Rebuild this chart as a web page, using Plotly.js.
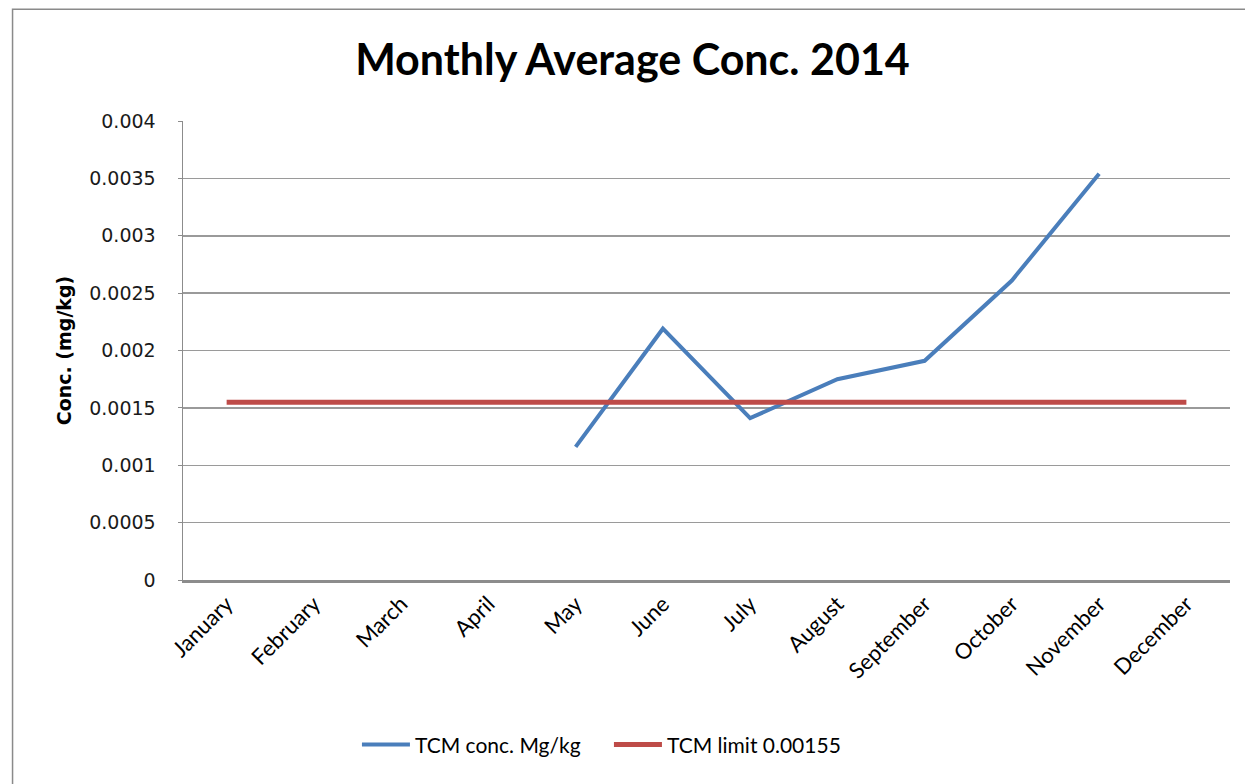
<!DOCTYPE html>
<html>
<head>
<meta charset="utf-8">
<script src="https://cdn.plot.ly/plotly-3.0.1.min.js"></script>
<style>
  html, body { margin: 0; padding: 0; background: #ffffff; }
  #chart { width: 1245px; height: 784px; }
</style>
</head>
<body>
<div id="chart"></div>
<script>
const months = ["January", "February", "March", "April", "May", "June", "July",
                "August", "September", "October", "November", "December"];
const tcmConc = [null, null, null, null, 0.00116, 0.00219, 0.00141, 0.00175, 0.00191, 0.00261, 0.00354, null];
const tcmLimit = [0.00155, 0.00155, 0.00155, 0.00155, 0.00155, 0.00155,
                  0.00155, 0.00155, 0.00155, 0.00155, 0.00155, 0.00155];
const yTickVals = [0, 0.0005, 0.001, 0.0015, 0.002, 0.0025, 0.003, 0.0035, 0.004];
const yTickText = ["0", "0.0005", "0.001", "0.0015", "0.002", "0.0025", "0.003", "0.0035", "0.004"];

const traces = [
  {
    x: months, y: tcmConc, type: "scatter", mode: "lines",
    name: "TCM conc. Mg/kg",
    line: { color: "#4A7EBB", width: 4 },
    connectgaps: false
  },
  {
    x: months, y: tcmLimit, type: "scatter", mode: "lines",
    name: "TCM limit 0.00155",
    line: { color: "#BE4B48", width: 5 }
  }
];

const layout = {
  width: 1245, height: 784,
  paper_bgcolor: "#ffffff", plot_bgcolor: "#ffffff",
  margin: { l: 183, r: 14.5, t: 120.5, b: 204, pad: 0 },
  title: {
    text: "<b>Monthly Average Conc. 2014</b>",
    font: { family: "Lato, 'Open Sans', sans-serif", size: 43, color: "#000000" },
    x: 0.508, xanchor: "center", xref: "container",
    y: 0.923, yanchor: "middle", yref: "container"
  },
  xaxis: {
    type: "category",
    range: [-0.5, 11.5],
    tickangle: -45,
    tickfont: { family: "Lato, 'Open Sans', sans-serif", size: 22, color: "#000000" },
    showgrid: false,
    showline: true, linecolor: "#8c8c8c", linewidth: 2.5,
    ticks: "", zeroline: false,
    fixedrange: true
  },
  yaxis: {
    range: [0, 0.004],
    tickvals: yTickVals, ticktext: yTickText,
    tickfont: { family: "'DejaVu Sans', sans-serif", size: 19, color: "#1a1a1a" },
    showgrid: true, gridcolor: "#9a9a9a", gridwidth: 1.5,
    showline: true, linecolor: "#8c8c8c", linewidth: 1.5,
    zeroline: false,
    ticks: "outside", ticklen: 4, tickcolor: "#8c8c8c",
    ticklabelstandoff: 18,
    title: {
      text: "<b>Conc. (mg/kg)</b>",
      font: { family: "'DejaVu Sans', sans-serif", size: 19, color: "#000000" },
      standoff: 12
    },
    fixedrange: true
  },
  showlegend: true,
  legend: {
    orientation: "h",
    x: 0.2867, xanchor: "left", xref: "container",
    y: 0.05, yanchor: "middle", yref: "container",
    font: { family: "Lato, 'Open Sans', sans-serif", size: 21, color: "#000000" },
    bgcolor: "rgba(0,0,0,0)",
    itemwidth: 48,
    entrywidth: 189, entrywidthmode: "pixels",
    tracegroupgap: 0
  },
  shapes: [
    {
      type: "rect", xref: "paper", yref: "paper",
      x0: -0.1628, x1: 1.2, y0: -0.6, y1: 1.2437,
      line: { color: "#8a8a8a", width: 1.5 },
      fillcolor: "rgba(0,0,0,0)",
      layer: "below"
    }
  ]
};

Plotly.newPlot("chart", traces, layout, { displayModeBar: false, staticPlot: true });
</script>
</body>
</html>
